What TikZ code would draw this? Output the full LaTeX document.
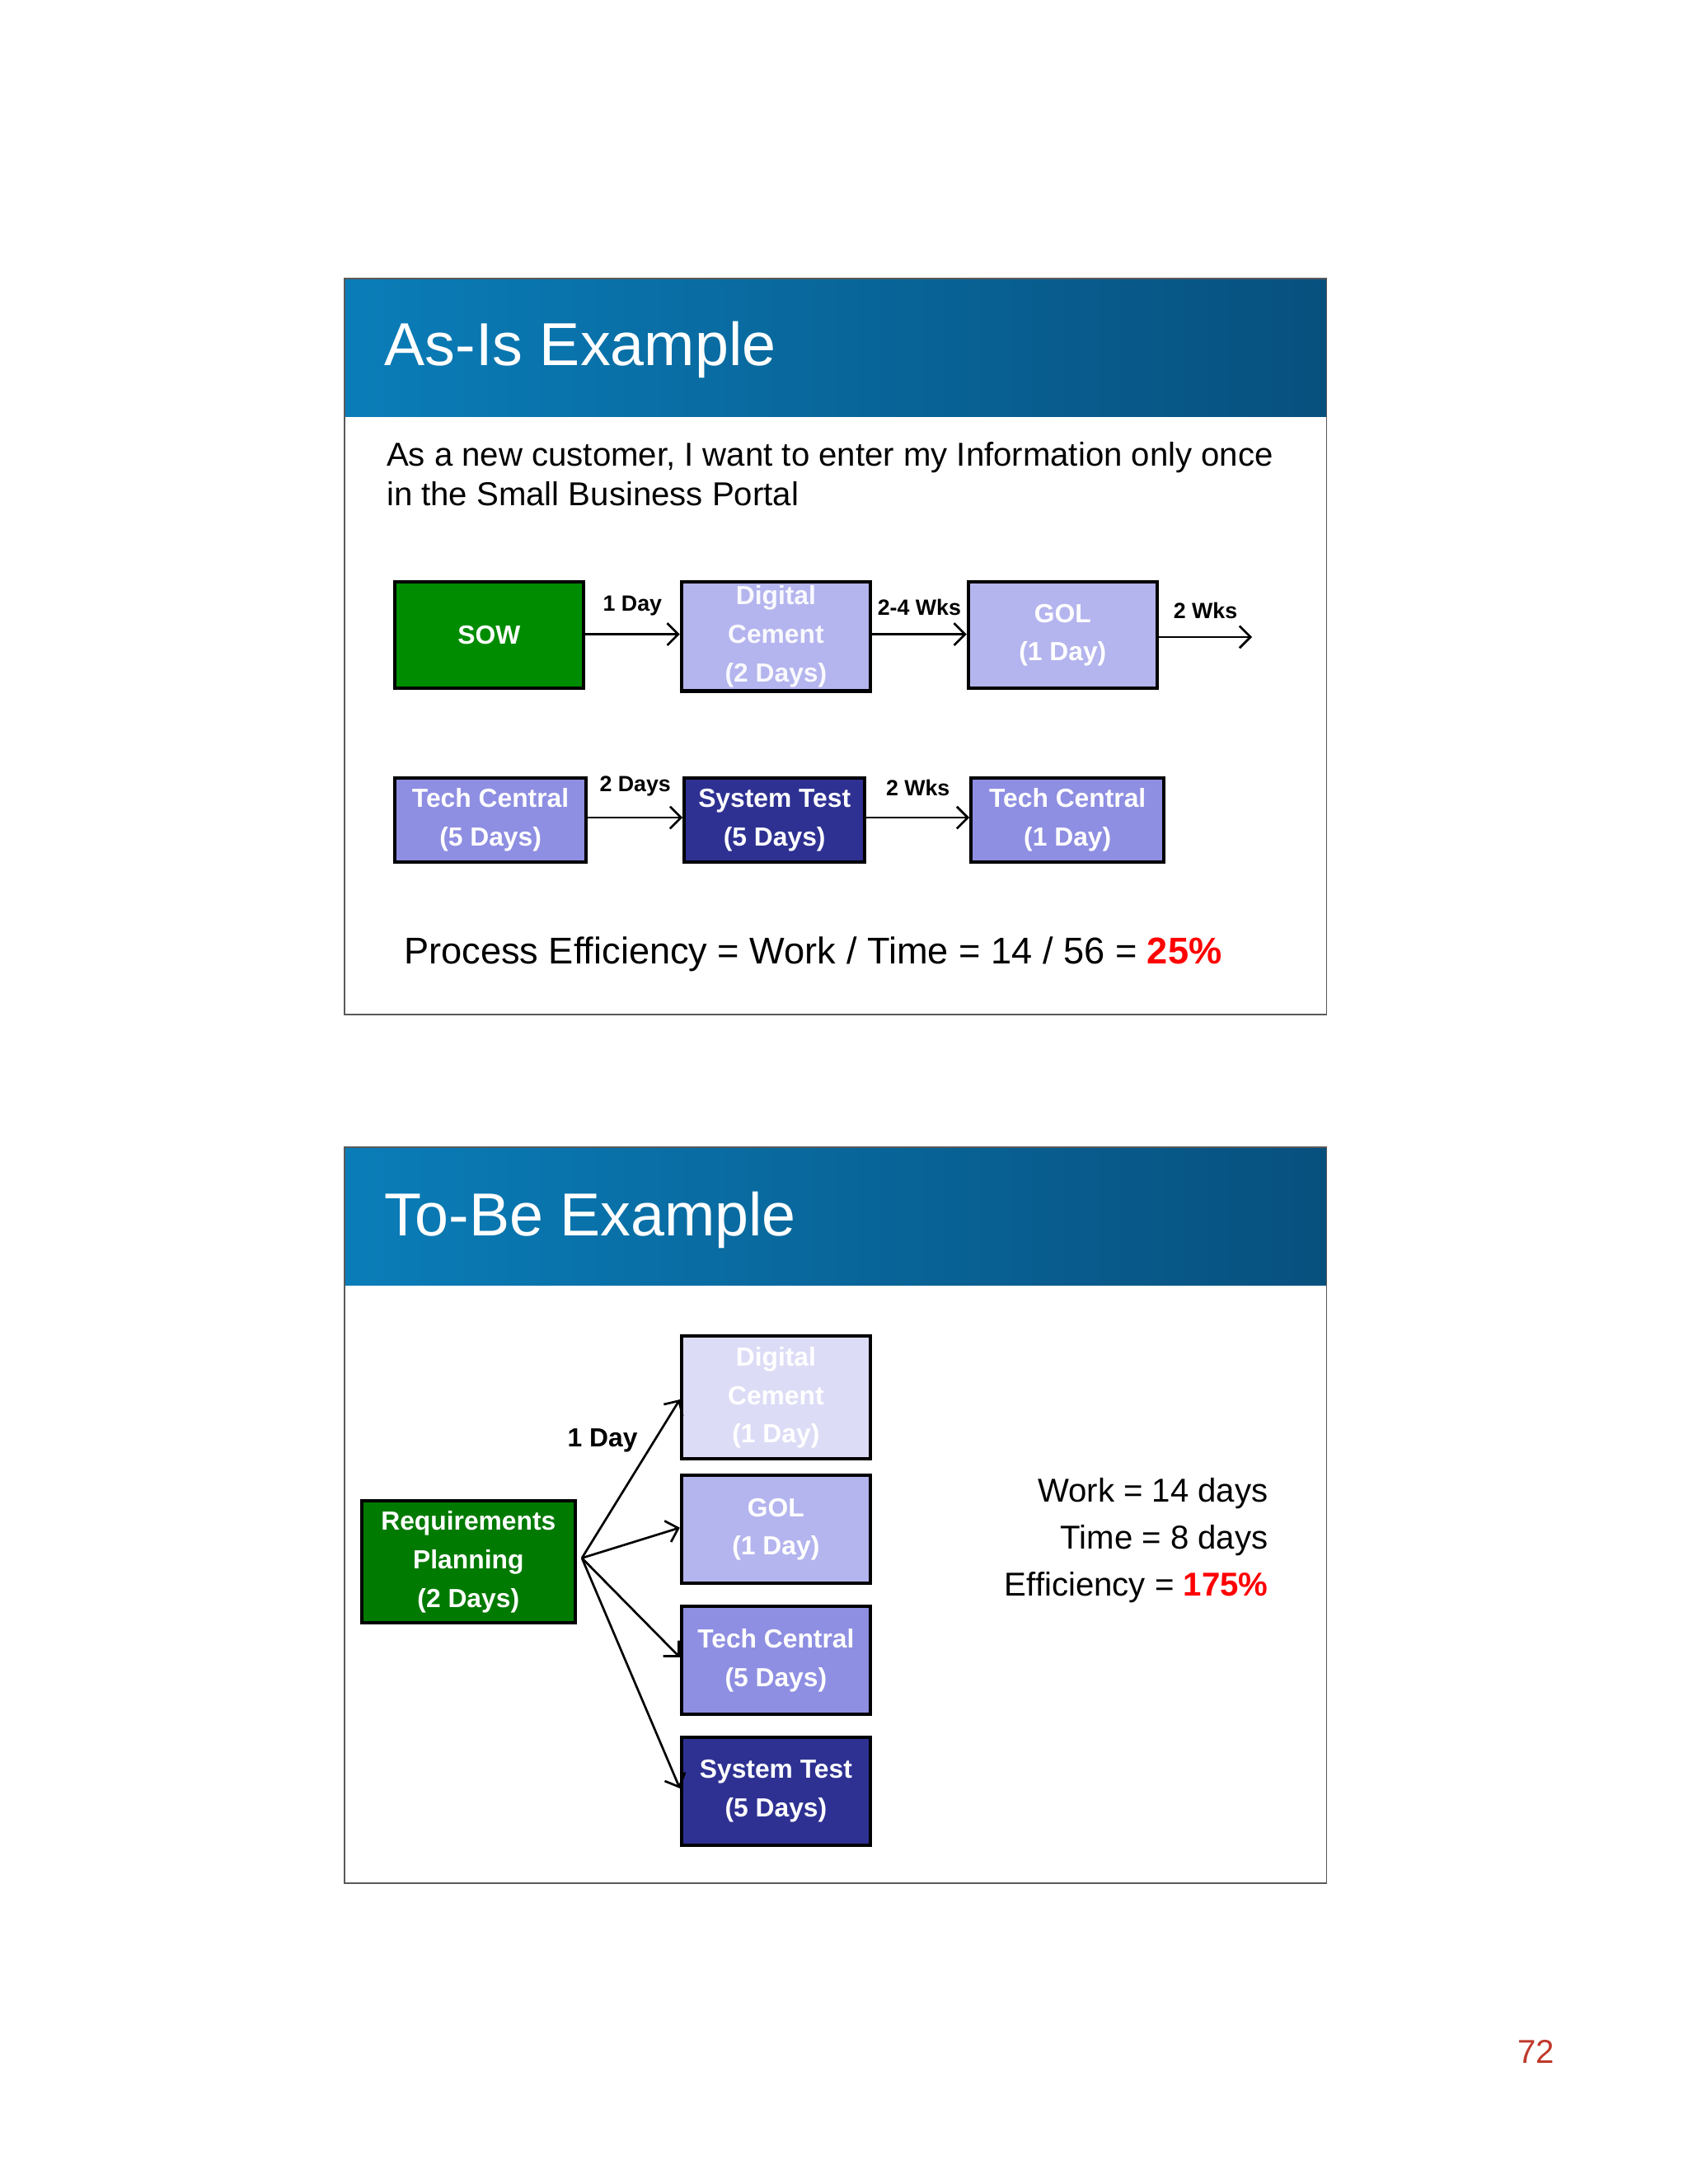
\documentclass[tikz,border=0pt]{standalone}
\usepackage{fontspec}
\setmainfont{Liberation Sans}
\usetikzlibrary{arrows.meta}
\definecolor{hdrL}{HTML}{0A7DB8}
\definecolor{hdrR}{HTML}{07507E}
\definecolor{grn}{HTML}{008C00}
\definecolor{dgrn}{HTML}{007A00}
\definecolor{lp}{HTML}{B4B4EE}
\definecolor{vlp}{HTML}{DCDCF6}
\definecolor{mp}{HTML}{8E8EE2}
\definecolor{dp}{HTML}{2E3192}
\definecolor{pg}{HTML}{C0392B}
\begin{document}
\begin{tikzpicture}[x=0.5pt,y=-0.5pt,
 box/.style={draw=black,line width=1.2pt,align=center,font=\bfseries\fontsize{9.5}{14}\selectfont,text=white,inner sep=0pt,anchor=north west},
 arr/.style={-{Straight Barb[length=4pt]},line width=0.8pt},
 lab/.style={font=\bfseries\fontsize{8}{10}\selectfont}]
\useasboundingbox (0,0) rectangle (1224,1584);
\fill[white] (0,0) rectangle (1224,1584);
% slide 1
\shade[left color=hdrL,right color=hdrR] (250,202) rectangle (962,302);
\draw[gray!70!black,line width=0.5pt] (250,202) rectangle (962,736);
\node[anchor=west,text=white,font=\fontsize{22}{26}\selectfont] (t1) at (272,254) {As-Is Example};
\node[anchor=north west,align=left,font=\fontsize{12}{14.5}\selectfont,inner sep=0pt] (d1) at (280,320) {As a new customer, I want to enter my Information only once\\in the Small Business Portal};
\node[box,fill=grn,minimum width=68.5pt,minimum height=38.5pt] (sow) at (285,421) {SOW};
\node[box,fill=lp,minimum width=68.5pt,minimum height=39.5pt,text=white!92!lp] (dc) at (493,421) {Digital\\Cement\\(2 Days)};
\node[box,fill=lp,minimum width=68.5pt,minimum height=38.5pt] (gol) at (701,421) {GOL\\(1 Day)};
\coordinate (e1) at (908,462);
\draw[arr] (sow.east |- 0,460) -- (dc.west |- 0,460) node[lab,midway,above=3pt] {1 Day};
\draw[arr] (dc.east |- 0,460) -- (gol.west |- 0,460) node[lab,midway,above=3pt] {2-4 Wks};
\draw[arr] (gol.east |- 0,462) -- (e1) node[lab,midway,above=3pt] {2 Wks};
\node[box,fill=mp,minimum width=69.5pt,minimum height=30.5pt] (tc1) at (285,563) {Tech Central\\(5 Days)};
\node[box,fill=dp,minimum width=65.5pt,minimum height=30.5pt] (st1) at (495,563) {System Test\\(5 Days)};
\node[box,fill=mp,minimum width=70pt,minimum height=30.5pt] (tc2) at (703,563) {Tech Central\\(1 Day)};
\draw[arr] (tc1.east |- 0,593) -- (st1.west |- 0,593) node[lab,midway,above=4pt] {2 Days};
\draw[arr] (st1.east |- 0,593) -- (tc2.west |- 0,593) node[lab,midway,above=4pt] {2 Wks};
\node[anchor=west,font=\fontsize{13.5}{16}\selectfont] (pe) at (286,692) {Process Efficiency = Work / Time = 14 / 56 = \textcolor{red}{\bfseries 25\%}};
% slide 2
\shade[left color=hdrL,right color=hdrR] (250,832) rectangle (962,932);
\draw[gray!70!black,line width=0.5pt] (250,832) rectangle (962,1366);
\node[anchor=west,text=white,font=\fontsize{22}{26}\selectfont] (t2) at (272,885) {To-Be Example};
\node[box,fill=dgrn,minimum width=77.5pt,minimum height=44.5pt] (rp) at (261,1087) {Requirements\\Planning\\(2 Days)};
\node[box,fill=vlp,minimum width=68.5pt,minimum height=44.5pt] (dc2) at (493,968) {Digital\\Cement\\(1 Day)};
\node[box,fill=lp,minimum width=68.5pt,minimum height=39pt] (gol2) at (493,1069) {GOL\\(1 Day)};
\node[box,fill=mp,minimum width=68.5pt,minimum height=39pt] (tc3) at (493,1164) {Tech Central\\(5 Days)};
\node[box,fill=dp,minimum width=68.5pt,minimum height=39pt] (st2) at (493,1259) {System Test\\(5 Days)};
\coordinate (o) at (422,1130);
\draw[arr] (o) -- (dc2.west |- 0,1015);
\draw[arr] (o) -- (gol2.west |- 0,1108);
\draw[arr] (o) -- (tc3.west |- 0,1202);
\draw[arr] (o) -- (st2.west |- 0,1297);
\node[font=\bfseries\fontsize{9.5}{12}\selectfont] (l1) at (437,1045) {1 Day};
\node[anchor=east,align=right,font=\fontsize{12}{17}\selectfont,inner sep=0pt] (res) at (920,1117) {Work = 14 days\\Time = 8 days\\Efficiency = \textcolor{red}{\bfseries 175\%}};
\node[text=pg,font=\fontsize{12}{14}\selectfont] (pn) at (1114,1488) {72};
\end{tikzpicture}
\end{document}
